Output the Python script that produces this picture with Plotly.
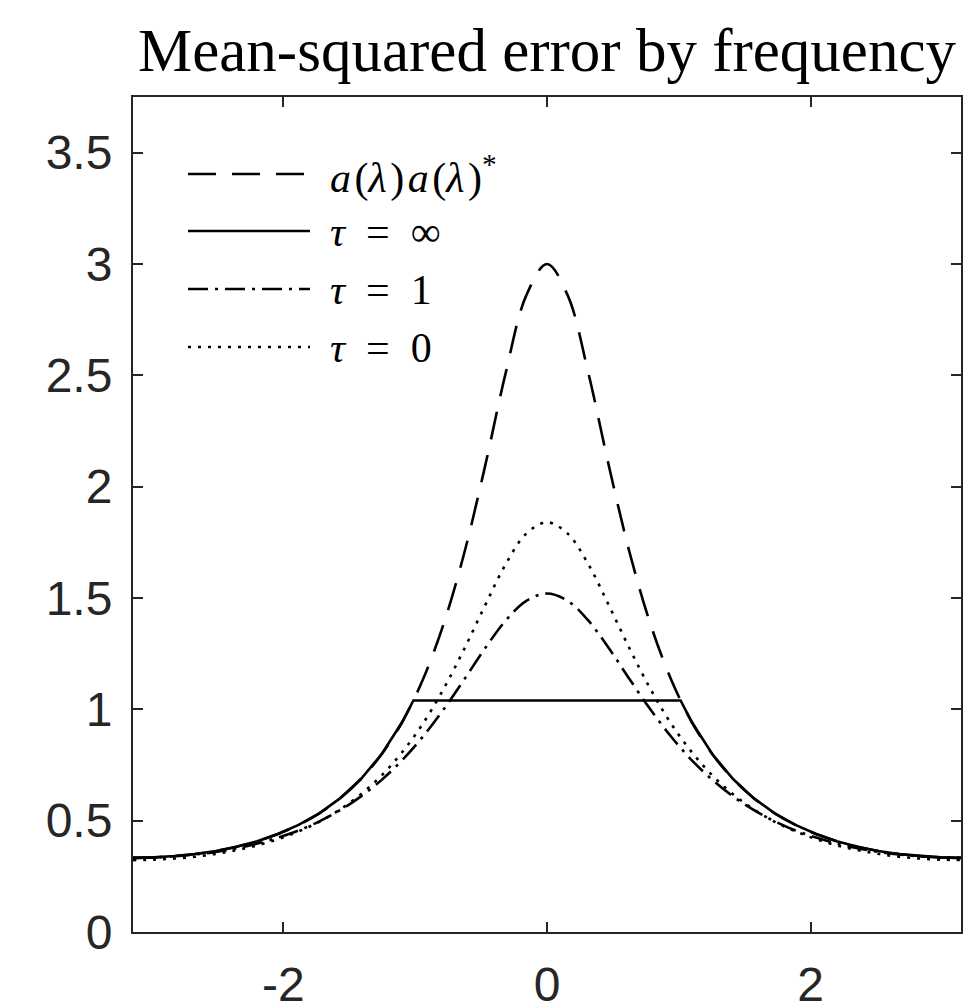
import plotly.graph_objects as go

# ---------------- data ----------------
lam = [-3.1416, -2.9845, -2.8274, -2.6704, -2.5133, -2.3562, -2.1991, -2.0420,
       -1.8850, -1.7279, -1.5708, -1.4137, -1.2566, -1.0996, -0.9425, -0.7854,
       -0.6283, -0.4712, -0.3142, -0.1571, 0.0, 0.1571, 0.3142, 0.4712, 0.6283,
       0.7854, 0.9425, 1.0996, 1.2566, 1.4137, 1.5708, 1.7279, 1.8850, 2.0420,
       2.1991, 2.3562, 2.5133, 2.6704, 2.8274, 2.9845, 3.1416]

spectrum = [0.333, 0.335, 0.341, 0.350, 0.364, 0.383, 0.408, 0.440, 0.481, 0.533,
            0.600, 0.686, 0.797, 0.942, 1.133, 1.382, 1.701, 2.089, 2.509, 2.859,
            3.000, 2.859, 2.509, 2.089, 1.701, 1.382, 1.133, 0.942, 0.797, 0.686,
            0.600, 0.533, 0.481, 0.440, 0.408, 0.383, 0.364, 0.350, 0.341, 0.335,
            0.333]

mse_tau1 = [0.333, 0.335, 0.340, 0.348, 0.360, 0.376, 0.397, 0.424, 0.456, 0.497,
            0.547, 0.608, 0.682, 0.771, 0.877, 0.999, 1.134, 1.273, 1.398, 1.487,
            1.520, 1.487, 1.398, 1.273, 1.134, 0.999, 0.877, 0.771, 0.682, 0.608,
            0.547, 0.497, 0.456, 0.424, 0.397, 0.376, 0.360, 0.348, 0.340, 0.335,
            0.333]

mse_tau0 = [0.323, 0.325, 0.330, 0.338, 0.351, 0.368, 0.389, 0.417, 0.452, 0.495,
            0.550, 0.618, 0.702, 0.807, 0.935, 1.091, 1.271, 1.465, 1.651, 1.789,
            1.840, 1.789, 1.651, 1.465, 1.271, 1.091, 0.935, 0.807, 0.702, 0.618,
            0.550, 0.495, 0.452, 0.417, 0.389, 0.368, 0.351, 0.338, 0.330, 0.325,
            0.323]

lam_inf = [-3.1416, -2.9845, -2.8274, -2.6704, -2.5133, -2.3562, -2.1991, -2.0420,
           -1.8850, -1.7279, -1.5708, -1.4137, -1.2566, -1.0996, -1.0138,
           1.0138, 1.0996, 1.2566, 1.4137, 1.5708, 1.7279, 1.8850, 2.0420,
           2.1991, 2.3562, 2.5133, 2.6704, 2.8274, 2.9845, 3.1416]

mse_inf = [0.333, 0.335, 0.341, 0.350, 0.364, 0.383, 0.408, 0.440, 0.481, 0.533,
           0.600, 0.686, 0.797, 0.942, 1.040,
           1.040, 0.942, 0.797, 0.686, 0.600, 0.533, 0.481, 0.440, 0.408, 0.383,
           0.364, 0.350, 0.341, 0.335, 0.333]

x_ticks = [-2, 0, 2]
x_tick_labels = ["-2", "0", "2"]
y_ticks = [0, 0.5, 1, 1.5, 2, 2.5, 3, 3.5]
y_tick_labels = ["0", "0.5", "1", "1.5", "2", "2.5", "3", "3.5"]

legend_labels = ["<i>a</i>&#8202;(<i>λ</i>&#8202;)&#8202;<i>a</i>&#8202;(<i>λ</i>&#8202;)<sup>*</sup>",
                 "<i>τ</i>&nbsp;&nbsp;=&nbsp;&nbsp;∞",
                 "<i>τ</i>&nbsp;&nbsp;=&nbsp;&nbsp;1",
                 "<i>τ</i>&nbsp;&nbsp;=&nbsp;&nbsp;0"]

# ---------------- styles ----------------
LW = 2.6
DASH = "28px,16px"
DASHDOT = "20px,7px,3px,7px"
DOT = "3px,7px"
AX = "#262626"
SERIF = "Liberation Serif, Times New Roman, serif"
SANS = "Liberation Sans, Arial, sans-serif"

fig = go.Figure()
fig.add_trace(go.Scatter(x=lam, y=spectrum, mode="lines", name="spectrum",
                         line=dict(color="black", width=LW, dash=DASH, shape="spline")))
fig.add_trace(go.Scatter(x=lam_inf, y=mse_inf, mode="lines", name="tau=inf",
                         line=dict(color="black", width=LW)))
fig.add_trace(go.Scatter(x=lam, y=mse_tau1, mode="lines", name="tau=1",
                         line=dict(color="black", width=LW, dash=DASHDOT, shape="spline")))
fig.add_trace(go.Scatter(x=lam, y=mse_tau0, mode="lines", name="tau=0",
                         line=dict(color="black", width=LW, dash=DOT, shape="spline")))

# ---------------- custom legend (line samples + math-like text) ----------------
L, R, T, B = 133, 4, 97, 69
W, H = 965, 1001
pw, ph = W - L - R, H - T - B


def px_x(p):
    return (p - L) / pw


def px_y(p):
    return (H - B - p) / ph


rows = [174, 231, 289, 347]
dashes = [DASH, "solid", DASHDOT, DOT]
shapes = []
annotations = []
for row, d, lab in zip(rows, dashes, legend_labels):
    shapes.append(dict(type="line", xref="paper", yref="paper",
                       x0=px_x(188), x1=px_x(310), y0=px_y(row), y1=px_y(row),
                       line=dict(color="black", width=LW, dash=d)))
    annotations.append(dict(xref="paper", yref="paper", x=px_x(328), y=px_y(row + 1),
                            xanchor="left", yanchor="middle", showarrow=False,
                            text=lab, font=dict(family=SERIF, size=42, color="black")))

fig.update_layout(
    width=W, height=H,
    margin=dict(l=L, r=R, t=T, b=B, autoexpand=False),
    paper_bgcolor="white", plot_bgcolor="white",
    showlegend=False,
    title=dict(text="Mean-squared error by frequency", x=0.5, xref="paper",
               y=1 - 50 / H, yref="container", xanchor="center", yanchor="middle",
               font=dict(family=SERIF, size=61, color="black")),
    shapes=shapes, annotations=annotations,
)
fig.update_xaxes(range=[-3.1416, 3.1416], tickvals=x_ticks, ticktext=x_tick_labels,
                 ticks="inside", ticklen=10, tickwidth=2, tickcolor=AX,
                 showline=True, linewidth=2, linecolor=AX, mirror="ticks",
                 showgrid=False, zeroline=False, ticklabelstandoff=9,
                 automargin=False,
                 tickfont=dict(family=SANS, size=48, color=AX))
fig.update_yaxes(range=[0, 3.75], tickvals=y_ticks, ticktext=y_tick_labels,
                 ticks="inside", ticklen=10, tickwidth=2, tickcolor=AX,
                 showline=True, linewidth=2, linecolor=AX, mirror="ticks",
                 showgrid=False, zeroline=False, ticklabelstandoff=9,
                 automargin=False,
                 tickfont=dict(family=SANS, size=48, color=AX))

fig.write_html("out.html", config={"displayModeBar": False},
               post_script="document.body.style.margin='0';document.body.style.overflow='hidden';")
